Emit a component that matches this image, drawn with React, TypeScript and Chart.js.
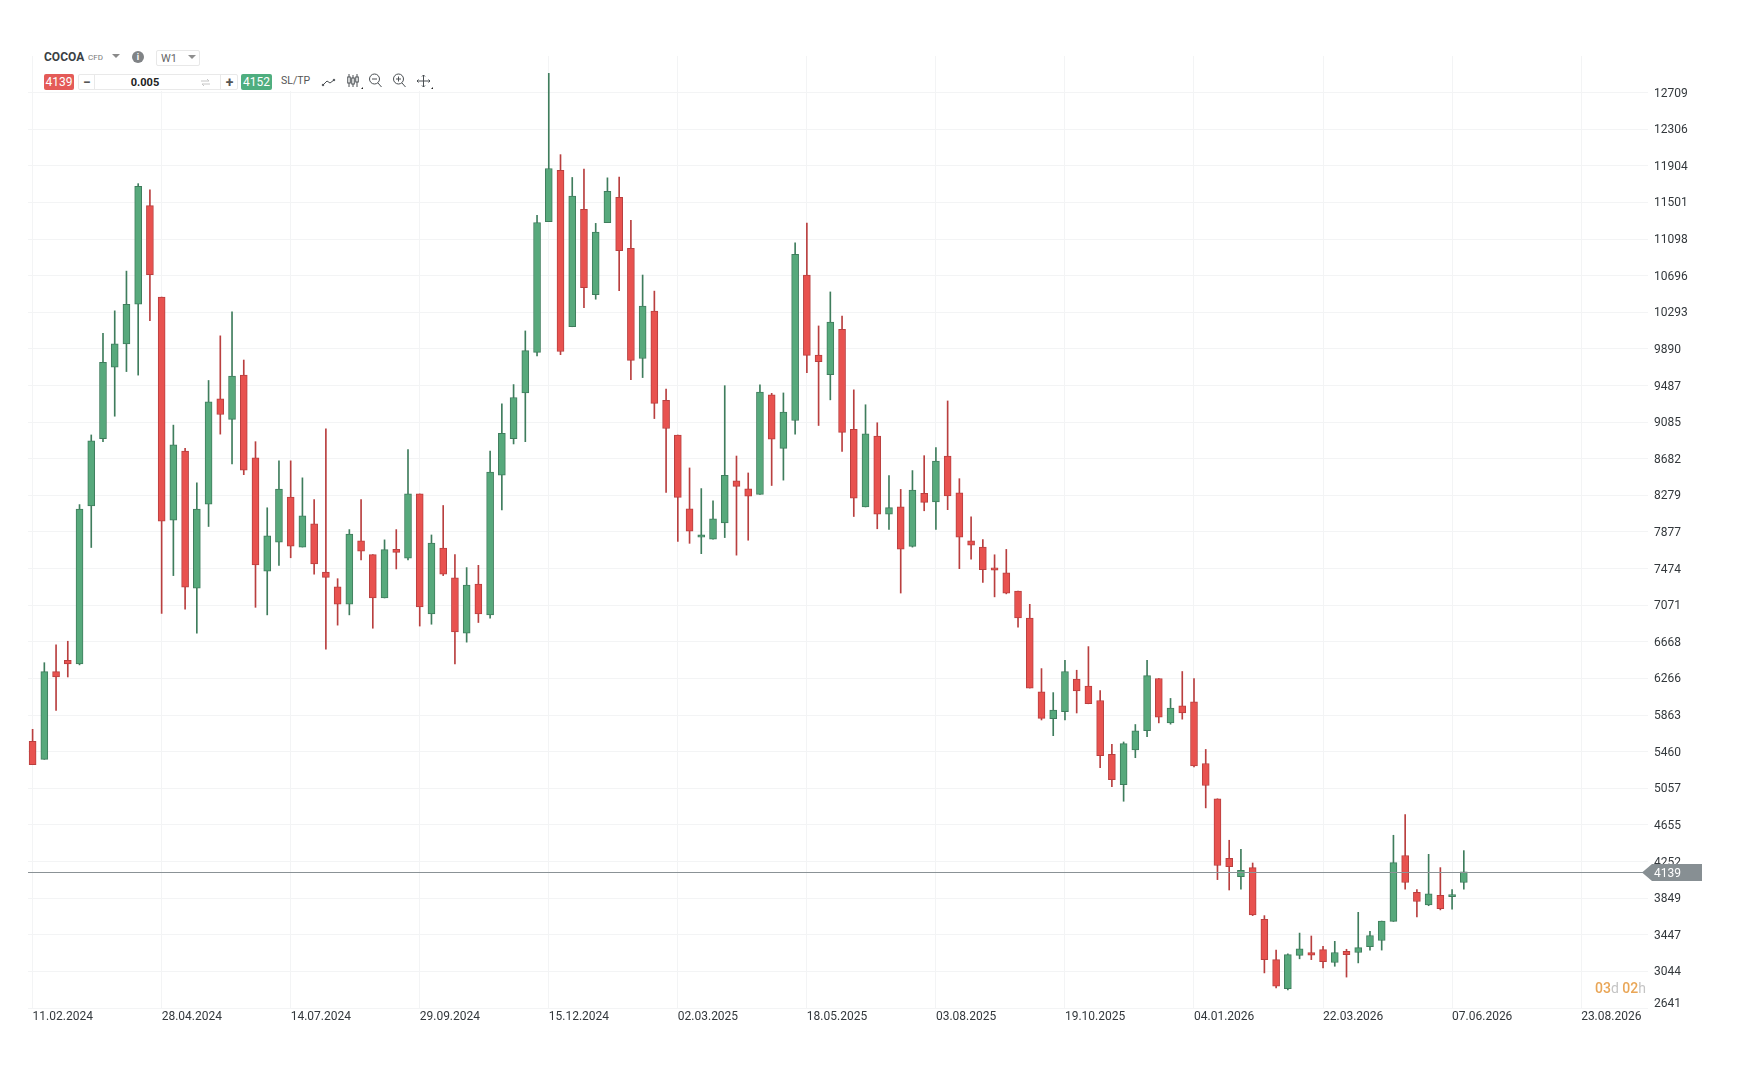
import React, { useEffect, useRef } from "react";
import { Chart, registerables } from "chart.js";

Chart.register(...registerables);

const symbol = "COCOA";
const timeframe = "W1";
const lastPrice = 4139;
const askPrice = 4152;

const dateTicks = ["11.02.2024","28.04.2024","14.07.2024","29.09.2024","15.12.2024","02.03.2025","18.05.2025","03.08.2025","19.10.2025","04.01.2026","22.03.2026","07.06.2026","23.08.2026"];
const weeksPerDateTick = 11;
const yTicks = [2641,3044,3447,3849,4252,4655,5057,5460,5863,6266,6668,7071,7474,7877,8279,8682,9085,9487,9890,10293,10696,11098,11501,11904,12306,12709];

const opens = [5574,5376,6341,6464,6425,8163,8904,9690,9945,10382,11467,10461,8006,8767,7260,8183,9341,9115,9602,8693,7446,7765,8261,7711,7967,7436,7274,7083,7780,7628,7151,7687,7588,8295,6975,7701,7372,6764,7304,6965,8502,8904,9405,9852,11291,11855,10134,11426,10488,11279,11557,10997,9785,10307,9326,8943,8131,7819,7798,7975,8438,8350,8291,9385,8796,9103,10703,9823,9608,10105,9006,8152,8931,8072,8152,7718,8303,8207,8712,8308,7779,7710,7483,7428,7227,6931,6119,5822,5900,6260,6183,6023,5430,5097,5480,5690,6265,5777,5964,6009,5330,4942,4286,4085,4185,3615,3173,2854,3219,3251,3283,3141,3264,3251,3315,3383,3593,4318,3912,3775,3880,3866,4021];
const closes = [5317,6341,6282,6425,8129,8880,9744,9945,10382,11678,10706,7996,8836,7269,8129,9307,9169,9592,8556,7515,7834,8349,7721,8055,7525,7377,7083,7854,7667,7151,7682,7652,8295,7053,7755,7412,6778,7294,6975,8536,8963,9356,9872,11281,11875,9862,11570,10564,11174,11624,10972,9764,10362,9292,9015,8257,7887,7845,8021,8501,8379,8270,9415,8897,9196,10930,9819,9751,10185,8973,8249,8956,8072,8144,7689,8337,8202,8657,8274,7820,7733,7462,7457,7205,6931,6160,5827,5918,6342,6128,5987,5417,5152,5549,5690,6297,5841,5941,5886,5303,5088,4208,4195,4154,3666,3173,2881,3228,3292,3223,3150,3251,3228,3305,3438,3597,4240,4021,3812,3898,3734,3889,4139];
const highs = [5706,6439,6636,6675,8178,8944,10063,10309,10746,11708,11639,10461,9052,8796,8418,9543,10034,10299,9768,8870,8143,8659,8659,8472,8232,9012,7363,7903,8232,7628,7790,7903,8782,8295,7844,8168,7628,7485,7510,8767,9287,9498,10088,11359,12921,12027,11776,11868,11271,11772,11780,11304,10703,10526,9448,8943,8581,8354,8219,9486,8712,8526,9495,9402,9406,11056,11275,10143,10517,10252,9440,9276,9078,8497,8345,8552,8716,8804,9318,8463,8043,7794,7626,7685,7227,7081,6374,6110,6465,6356,6616,6133,5540,5567,5759,6465,6265,6046,6342,6265,5485,4942,4486,4386,4236,3657,3278,3237,3465,3433,3319,3374,3287,3693,3483,3597,4541,4769,3944,4331,4185,3944,4372];
const lows = [5317,5376,5914,6282,6415,7706,8870,9150,9641,9602,10201,6980,7397,7029,6764,7937,8953,8624,8507,7048,6965,7510,7593,7711,7412,6587,6852,6965,7569,6818,7151,7470,7569,6842,6862,7397,6425,6665,6881,6930,8119,8845,8870,9813,11291,9827,10134,10345,10437,11279,10530,9553,9575,9124,8312,7773,7752,7638,7798,7815,7622,7786,8291,8388,8447,8952,9629,9048,9330,8762,8047,8152,7912,7904,7205,7710,8110,7904,8122,7473,7578,7323,7163,7196,6830,6160,5809,5636,5809,5886,5987,5284,5075,4915,5394,5626,5777,5763,5818,5294,4842,4053,3939,3948,3657,3027,2863,2840,3182,3173,3082,3100,2981,3137,3278,3278,3593,3948,3643,3766,3720,3729,3948];

const GREEN = "#57a97c";
const GREEN_DARK = "#3f7d5d";
const RED = "#e8524f";
const RED_DARK = "#b93f3f";
const GRID = "#f3f4f5";
const AXIS_TEXT = "#33383c";
const TAG = "#878f93";
const LAST_LINE = "#8b9296";
const FONT = "Roboto, sans-serif";

const isUp = (i: number) => closes[i] >= opens[i];

const priceTagPlugin = {
  id: "priceTag",
  afterDatasetsDraw(chart: any) {
    const { ctx, scales, chartArea } = chart;
    const py = Math.round(scales.y.getPixelForValue(lastPrice)) + 0.5;
    ctx.save();
    ctx.strokeStyle = LAST_LINE;
    ctx.lineWidth = 1;
    ctx.beginPath();
    ctx.moveTo(chartArea.left, py);
    ctx.lineTo(chartArea.right, py);
    ctx.stroke();
    ctx.restore();
  },
  afterDraw(chart: any) {
    const { ctx, scales } = chart;
    const yScale = scales.y;
    const py = Math.round(yScale.getPixelForValue(lastPrice)) + 0.5;
    const bottomY = yScale.getPixelForValue(yTicks[0]);
    const left = chart.chartArea.right;
    ctx.save();
    ctx.fillStyle = TAG;
    ctx.beginPath();
    ctx.moveTo(left - 6, py);
    ctx.lineTo(left + 4, py - 8.5);
    ctx.lineTo(left + 54, py - 8.5);
    ctx.lineTo(left + 54, py + 8.5);
    ctx.lineTo(left + 4, py + 8.5);
    ctx.closePath();
    ctx.fill();
    ctx.font = `12px ${FONT}`;
    ctx.textBaseline = "middle";
    ctx.textAlign = "left";
    ctx.fillStyle = "#ffffff";
    ctx.fillText(String(lastPrice), left + 6, py + 1);
    ctx.fillStyle = AXIS_TEXT;
    ctx.fillText(String(yTicks[0]), left + 6, bottomY - 4);
    ctx.restore();
  },
};

const caret = (x: number, y: number, w = 8, h = 4, color = "#8a8a8a") => (
  <div style={{ position: "absolute", left: x, top: y, width: 0, height: 0, borderLeft: `${w / 2}px solid transparent`, borderRight: `${w / 2}px solid transparent`, borderTop: `${h}px solid ${color}` }} />
);

const abs = (left: number, top: number, width: number, height: number, extra: React.CSSProperties = {}): React.CSSProperties => ({
  position: "absolute", left, top, width, height, boxSizing: "border-box", ...extra,
});

function Toolbar() {
  const center: React.CSSProperties = { display: "flex", alignItems: "center", justifyContent: "center" };
  return (
    <div style={{ fontFamily: FONT }}>
      <div style={abs(36, 46, 400, 45, { background: "#ffffff" })} />
      <div style={abs(44, 49, 44, 16, { fontSize: 12, fontWeight: 700, color: "#3a3f44", lineHeight: "16px" })}>{symbol}</div>
      <div style={abs(88, 50, 18, 15, { fontSize: 8, color: "#7a7a7a", lineHeight: "15px" })}>CFD</div>
      {caret(112, 54, 8, 4)}
      <div style={abs(132, 51, 12, 12, { ...center, borderRadius: "50%", background: "#808386", color: "#fff", fontSize: 9, fontWeight: 700 })}>i</div>
      <div style={abs(156, 49.500, 44, 16, { border: "1px solid #e8e8e8", borderRadius: 2, fontSize: 11, color: "#666", lineHeight: "15px", paddingLeft: 4 })}>{timeframe}</div>
      {caret(188, 55, 8, 4, "#8f8f8f")}

      <div style={abs(44, 74, 30, 16, { ...center, background: "#e45b58", color: "#fff", borderRadius: 2, fontSize: 12 })}>{lastPrice}</div>
      <div style={abs(78, 74, 160, 16, { border: "1px solid #e9e9e9", borderRadius: 2 })} />
      <div style={abs(94, 74, 1, 16, { background: "#e9e9e9" })} />
      <div style={abs(220, 74, 1, 16, { background: "#e9e9e9" })} />
      <div style={abs(80, 74, 14, 16, { ...center, color: "#555", fontSize: 14, fontWeight: 700 })}>−</div>
      <div style={abs(110, 74, 70, 16, { ...center, color: "#222", fontSize: 11, fontWeight: 700 })}>0.005</div>
      <svg style={abs(200, 77, 11, 11)} viewBox="0 0 11 11" fill="none" stroke="#c6c6c6" strokeWidth="1">
        <path d="M1 4h8M7 2l2 2M10 7H2M4 9L2 7" />
      </svg>
      <div style={abs(222, 74, 15, 16, { ...center, color: "#555", fontSize: 14, fontWeight: 700 })}>+</div>
      <div style={abs(241, 74, 31, 16, { ...center, background: "#4fae7f", color: "#fff", borderRadius: 2, fontSize: 12 })}>{askPrice}</div>
      <div style={abs(281, 73, 32, 16, { fontSize: 10.5, color: "#555", lineHeight: "16px" })}>SL/TP</div>

      <svg style={abs(320, 72, 118, 20)} viewBox="0 0 118 20" fill="none" stroke="#4a4f53" strokeWidth="1">
        <path d="M3 13l4-4 3 2 4-3" />
        <circle cx="3" cy="13" r=".8" fill="#4a4f53" /><circle cx="14" cy="8" r=".8" fill="#4a4f53" />
        <path d="M29 2v13M33 3v12M37 2v13" />
        <rect x="27.750" y="5" width="2.500" height="6" fill="#fff" /><rect x="31.750" y="6" width="2.500" height="6" fill="#fff" /><rect x="35.750" y="5" width="2.500" height="5" fill="#fff" />
        <path d="M41 17h2v-2z" fill="#222" stroke="none" />
        <circle cx="54.5" cy="7" r="5" /><path d="M52 7h5M58 11l3.5 4" />
        <circle cx="78.5" cy="7" r="5" /><path d="M76 7h5M78.5 4.500v5M82 11l3.500 4" />
        <path d="M103.500 3v12M97 9h13M102 4.500l1.500-1.500 1.500 1.500M102 13.500l1.500 1.500 1.500-1.500M98.500 7.500L97 9l1.500 1.500M108.500 7.500L110 9l-1.500 1.500" />
        <path d="M111 17h2v-2z" fill="#222" stroke="none" />
      </svg>

      <div style={abs(1590, 978, 60, 20, { fontSize: 14, lineHeight: "20px", fontWeight: 500, textAlign: "right", paddingRight: 4, whiteSpace: "nowrap" })}>
        <span style={{ color: "#e9a657" }}>03</span>
        <span style={{ color: "#c4c4c4", fontWeight: 400 }}>d </span>
        <span style={{ color: "#e9a657" }}>02</span>
        <span style={{ color: "#c4c4c4", fontWeight: 400 }}>h</span>
      </div>
    </div>
  );
}

export default function App() {
  const ref = useRef<HTMLCanvasElement | null>(null);
  useEffect(() => {
    if (!ref.current) return;
    const xMin = -0.392;
    const xMax = 137.7;
    const yMin = yTicks[0];
    const yMax = 13112;
    const idx = opens.map((_, i) => i);
    const chart = new Chart(ref.current, {
      type: "bar",
      plugins: [priceTagPlugin],
      data: {
        datasets: [
          {
            type: "bar",
            order: 2,
            grouped: false,
            barThickness: 1,
            data: idx.map((i) => ({ x: i, y: [lows[i], highs[i]] })),
            backgroundColor: idx.map((i) => (isUp(i) ? GREEN_DARK : RED_DARK)),
            borderWidth: 0,
          },
          {
            type: "bar",
            order: 1,
            grouped: false,
            barThickness: 7,
            data: idx.map((i) => ({ x: i, y: [opens[i], closes[i]] })),
            backgroundColor: idx.map((i) => (isUp(i) ? GREEN : RED)),
            borderColor: idx.map((i) => (isUp(i) ? GREEN_DARK : RED_DARK)),
            borderWidth: 1,
            borderSkipped: false,
          },
        ] as any,
      },
      options: {
        responsive: false,
        animation: false,
        events: [],
        layout: { padding: { left: 28, top: 56, right: 0, bottom: 0 } },
        plugins: { legend: { display: false }, tooltip: { enabled: false } },
        scales: {
          x: {
            type: "linear",
            min: xMin,
            max: xMax,
            offset: false,
            grid: { color: GRID, offset: false, drawTicks: false, lineWidth: 1 },
            border: { display: false },
            afterBuildTicks: (s: any) => {
              s.ticks = dateTicks.map((_, i) => ({ value: i * weeksPerDateTick }));
            },
            afterFit: (s: any) => {
              s.height = 60;
            },
            ticks: {
              autoSkip: false,
              maxRotation: 0,
              align: "start",
              padding: 2,
              color: AXIS_TEXT,
              font: { family: FONT, size: 12 },
              callback: (v: any) => dateTicks[Math.round(Number(v) / weeksPerDateTick)],
            },
          },
          y: {
            type: "linear",
            position: "right",
            min: yMin,
            max: yMax,
            grid: { color: GRID, drawTicks: false, lineWidth: 1 },
            border: { display: false },
            afterBuildTicks: (s: any) => {
              s.ticks = yTicks.map((v) => ({ value: v }));
            },
            afterFit: (s: any) => {
              s.width = 100;
            },
            ticks: {
              autoSkip: false,
              padding: 6,
              labelOffset: 1,
              color: AXIS_TEXT,
              font: { family: FONT, size: 12 },
              callback: (v: any) => (Number(v) === yTicks[0] ? "" : String(v)),
            },
          },
        },
      } as any,
    });
    return () => chart.destroy();
  }, []);
  return (
    <div style={{ position: "absolute", left: 0, top: 0, width: 1748, height: 1068, background: "#ffffff", overflow: "hidden" }}>
      <canvas ref={ref} width={1748} height={1068} style={{ display: "block" }} />
      <Toolbar />
    </div>
  );
}
